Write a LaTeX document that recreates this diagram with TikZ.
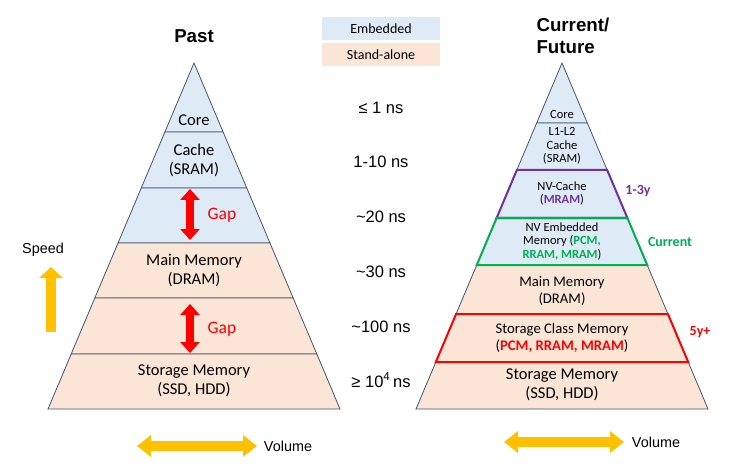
\documentclass[tikz,border=0pt]{standalone}
\usepackage{fontspec}
\setmainfont{Carlito}
\newfontfamily\arialfont{Liberation Sans}
\usetikzlibrary{arrows.meta}
\definecolor{embcolor}{HTML}{DEEBF7}
\definecolor{stdcolor}{HTML}{FBE5D6}
\definecolor{edgecolor}{HTML}{44546A}
\definecolor{speedcolor}{HTML}{FFC000}
\definecolor{nvcolor}{HTML}{7030A0}
\definecolor{curcolor}{HTML}{00B050}
\definecolor{futcolor}{HTML}{FF0000}
\newcommand{\slope}{0.422}
\newcommand{\apexy}{63}
\newcommand{\pastx}{194}
\newcommand{\futx}{562}
\newcommand{\timex}{381}
% one layer of a pyramid: apex x, top y, bottom y, style
\newcommand{\layer}[4]{\filldraw[#4] ({#1-\slope*(#2-\apexy)},#2) -- ({#1+\slope*(#2-\apexy)},#2) -- ({#1+\slope*(#3-\apexy)},#3) -- ({#1-\slope*(#3-\apexy)},#3) -- cycle;}

\tikzset{
  emb/.style={fill=embcolor,draw=edgecolor,line width=0.8pt},
  std/.style={fill=stdcolor,draw=edgecolor,line width=0.8pt},
  band/.style={fill=none,draw=#1,line width=2pt},
  bigtxt/.style={font=\fontsize{16.5}{19}\selectfont,align=center},
  midtxt/.style={font=\fontsize{14.7}{17}\selectfont,align=center},
  smalltxt/.style={font=\fontsize{12.5}{13.5}\selectfont,align=center},
  timetxt/.style={font=\arialfont\fontsize{16.5}{19}\selectfont},
  axistxt/.style={font=\arialfont\fontsize{14.4}{17}\selectfont},
  titletxt/.style={font=\arialfont\bfseries\fontsize{18.7}{22}\selectfont},
  gaptxt/.style={text=red,font=\fontsize{17.5}{20}\selectfont},
  tagtxt/.style={text=#1,font=\bfseries\fontsize{14}{16}\selectfont},
  legend/.style={fill=#1,minimum width=118pt,minimum height=23pt,inner sep=0pt,font=\fontsize{14}{16}\selectfont},
  gaparrow/.style={red,line width=8.5pt,{Triangle[width=19pt,length=11pt]}-{Triangle[width=19pt,length=11pt]}},
  speedarrow/.style={speedcolor,line width=10pt,-{Triangle[width=23pt,length=11pt]}},
  volarrow/.style={speedcolor,line width=10pt,{Triangle[width=21pt,length=14pt]}-{Triangle[width=21pt,length=14pt]}}
}

\begin{document}
\begin{tikzpicture}[x=1pt,y=-1pt]
\useasboundingbox (0,0) rectangle (743,470);

% legend
\node[legend=embcolor] (embkey) at (381,28.5) {Embedded};
\node[legend=stdcolor] (stdkey) at (381,54.5) {Stand-alone};

% past pyramid
\layer{\pastx}{63}{132}{emb}
\layer{\pastx}{132}{188}{emb}
\layer{\pastx}{188}{243}{emb}
\layer{\pastx}{243}{298}{std}
\layer{\pastx}{298}{354}{std}
\layer{\pastx}{354}{409}{std}

\node[titletxt] (past) at (\pastx,36) {Past};
\node[bigtxt] (pcore) at (\pastx,120) {Core};
\node[bigtxt] (pcache) at (\pastx,160) {Cache\\(SRAM)};
\node[bigtxt] (pmain) at (\pastx,270) {Main Memory\\(DRAM)};
\node[bigtxt] (pstore) at (\pastx,381) {Storage Memory\\(SSD, HDD)};

\coordinate (gapAtop) at (\pastx+-4,189);
\coordinate (gapAbot) at (\pastx+-4,240);
\coordinate (gapBtop) at (\pastx+-4,304);
\coordinate (gapBbot) at (\pastx+-4,353);
\draw[gaparrow] (gapAtop) -- (gapAbot);
\draw[gaparrow] (gapBtop) -- (gapBbot);
\node[gaptxt] (gapA) at (222,215) {Gap};
\node[gaptxt] (gapB) at (222,329) {Gap};

% speed and volume
\node[axistxt] (speed) at (43,250) {Speed};
\coordinate (spdlo) at (51,332);
\coordinate (spdhi) at (51,267);
\draw[speedarrow] (spdlo) -- (spdhi);

\coordinate (pvolL) at (137,446);
\coordinate (pvolR) at (257,446);
\draw[volarrow] (pvolL) -- (pvolR);
\node[axistxt] (pvol) at (288,446) {Volume};

\coordinate (fvolL) at (504,442);
\coordinate (fvolR) at (624,442);
\draw[volarrow] (fvolL) -- (fvolR);
\node[axistxt] (fvol) at (656,442) {Volume};

% access times
\node[timetxt] (t1) at (\timex,108) {≤ 1 ns};
\node[timetxt] (t2) at (\timex,162) {1-10 ns};
\node[timetxt] (t3) at (\timex,217) {\textasciitilde20 ns};
\node[timetxt] (t4) at (\timex,272) {\textasciitilde30 ns};
\node[timetxt] (t5) at (\timex,327) {\textasciitilde100 ns};
\node[timetxt] (t6) at (\timex,380) {≥ 10\textsuperscript{4}\,ns};

% current / future pyramid
\layer{\futx}{63}{123}{emb}
\layer{\futx}{123}{170}{emb}
\layer{\futx}{170}{218}{emb}
\layer{\futx}{218}{265}{emb}
\layer{\futx}{265}{314}{std}
\layer{\futx}{314}{362}{std}
\layer{\futx}{362}{409}{std}
\layer{\futx}{170}{218}{band=nvcolor}
\layer{\futx}{218}{265}{band=curcolor}
\layer{\futx}{314}{362}{band=futcolor}

\node[titletxt,align=left,anchor=west] (future) at (533,36) {Current/\\Future};
\node[smalltxt] (fcore) at (\futx,114) {Core};
\node[smalltxt] (fcache) at (\futx,146) {L1-L2\\Cache\\(SRAM)};
\node[smalltxt] (fnvc) at (\futx,193.5) {NV-Cache\\(\textcolor{nvcolor}{\textbf{MRAM}})};
\node[smalltxt] (fnve) at (\futx,241.5) {NV Embedded\\Memory (\textcolor{curcolor}{\textbf{PCM,}}\\\textcolor{curcolor}{\textbf{RRAM, MRAM}})};
\node[midtxt] (fmain) at (\futx,290.5) {Main Memory\\(DRAM)};
\node[midtxt] (fscm) at (\futx,337.5) {Storage Class Memory\\(\textcolor{futcolor}{\textbf{PCM, RRAM, MRAM}})};
\node[bigtxt] (fstore) at (\futx,385) {Storage Memory\\(SSD, HDD)};

\node[tagtxt=nvcolor] (tag1) at (638,191) {1-3y};
\node[tagtxt=curcolor] (tag2) at (670,242) {Current};
\node[tagtxt=futcolor] (tag3) at (700,332) {5y+};

\end{tikzpicture}
\end{document}
